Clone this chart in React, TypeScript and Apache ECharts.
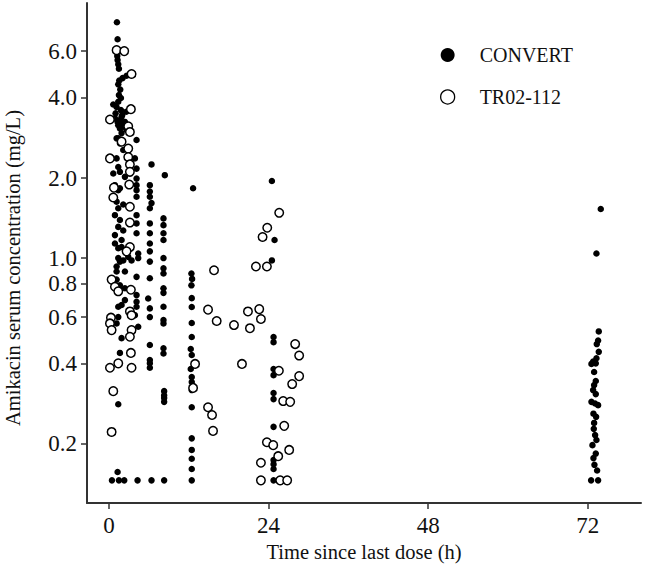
import { useEffect, useRef } from "react";
import * as echarts from "echarts";

// Tick values
const xTicks = [0, 24, 48, 72];
const yTicks = [0.2, 0.4, 0.6, 0.8, 1.0, 2.0, 4.0, 6.0];
const seriesNames = ["CONVERT", "TR02-112"];

// CONVERT: [time since last dose (h), amikacin concentration (mg/L)]
const convertEarly: [number, number][] = [
  [1.2, 7.7], [1.3, 6.65], [1.25, 5.75], [1.3, 5.55], [1.4, 5.35], [1.5, 5.15], [2.65, 4.85], [2.05, 4.75],
  [1.55, 4.65], [1.4, 4.5], [1.7, 4.3], [1.5, 4.1], [1.8, 4.0], [1.4, 3.87], [0.65, 3.78], [1.15, 3.7],
  [1.8, 3.6], [2.0, 3.45], [0.9, 3.35], [1.65, 3.3], [2.4, 3.25], [1.4, 3.16], [2.15, 3.12], [1.0, 3.5],
  [1.9, 3.4], [2.6, 3.55], [1.3, 3.25], [2.0, 3.2], [1.9, 2.95], [1.15, 2.82],
  [1.65, 3.07], [2.65, 3.03], [4.15, 2.78], [1.4, 2.82], [1.65, 2.7], [2.15, 2.55], [1.15, 2.37], [3.9, 2.37],
  [6.4, 2.25], [1.4, 2.2], [4.15, 2.17], [0.65, 2.08], [1.65, 2.11], [2.4, 2.02], [8.4, 2.05], [4.15, 1.99],
  [0.9, 1.88], [1.65, 1.83], [1.4, 1.8], [4.15, 1.88], [6.15, 1.88], [4.15, 1.8], [6.15, 1.78], [4.15, 1.7],
  [6.15, 1.7], [1.15, 1.63], [6.4, 1.61], [2.15, 1.59], [1.4, 1.54], [6.15, 1.54], [0.9, 1.45], [4.15, 1.45],
  [8.2, 1.41], [1.65, 1.39], [4.15, 1.35], [6.15, 1.35], [8.2, 1.33], [1.4, 1.31], [2.15, 1.27], [4.15, 1.24],
  [6.15, 1.24], [8.2, 1.24], [0.9, 1.22], [1.9, 1.17], [8.2, 1.17], [6.15, 1.135], [1.9, 1.1], [0.9, 1.135],
  [1.4, 1.09], [6.15, 1.06], [4.4, 1.04], [1.4, 1.0], [2.15, 0.98], [2.9, 1.01], [3.4, 0.98], [4.4, 1.0],
  [8.2, 1.0], [1.15, 0.93], [1.65, 0.97], [6.15, 0.97], [8.2, 0.915], [8.2, 0.875], [1.15, 0.89], [2.4, 0.89],
  [4.15, 0.85], [6.15, 0.84], [1.15, 0.83], [1.65, 0.79], [2.4, 0.77], [4.15, 0.726], [4.15, 0.685], [5.9, 0.705],
  [8.2, 0.77], [8.2, 0.74], [2.4, 0.695], [1.4, 0.656], [1.9, 0.666], [6.15, 0.647], [8.2, 0.656], [4.15, 0.656],
  [3.9, 0.61], [1.4, 0.6], [6.15, 0.6], [1.15, 0.568], [8.2, 0.568], [8.2, 0.585], [4.4, 0.552], [1.9, 0.5],
  [6.15, 0.471], [8.2, 0.458], [8.2, 0.438], [1.65, 0.44], [6.15, 0.414], [6.15, 0.402], [6.15, 0.387],
  [8.3, 0.316], [8.3, 0.305], [8.3, 0.298], [8.3, 0.288], [1.4, 0.282], [1.3, 0.157],
  [0.45, 0.146], [1.5, 0.146], [2.3, 0.146], [4.3, 0.146], [6.4, 0.146], [8.3, 0.146],
];
const convert12h: [number, number][] = [
  [12.65, 1.83], [12.4, 0.875], [12.5, 0.835], [12.4, 0.79], [12.45, 0.707], [12.45, 0.655], [12.45, 0.57],
  [12.45, 0.505], [12.3, 0.455], [12.45, 0.432], [12.3, 0.383], [12.45, 0.357], [12.45, 0.342], [12.45, 0.319],
  [12.45, 0.275], [12.45, 0.21], [12.45, 0.19], [12.45, 0.176], [12.45, 0.161], [12.45, 0.146],
];
const convert24h: [number, number][] = [
  [24.5, 1.95], [24.9, 1.17], [24.5, 0.98], [24.75, 0.505], [24.75, 0.483], [24.75, 0.383], [24.75, 0.363],
  [24.75, 0.311], [24.75, 0.295], [24.75, 0.232], [24.75, 0.174], [24.75, 0.168], [24.75, 0.161], [24.75, 0.146],
];
const convert72h: [number, number][] = [
  [73.95, 1.53], [73.3, 1.04], [73.65, 0.53], [73.55, 0.49], [73.35, 0.475], [73.65, 0.444], [73.3, 0.42],
  [72.8, 0.408], [73.2, 0.402], [72.55, 0.4], [72.95, 0.373], [73.2, 0.345], [72.95, 0.333], [72.8, 0.319],
  [73.2, 0.308], [72.55, 0.288], [73.1, 0.284], [73.55, 0.28], [72.85, 0.26], [73.25, 0.253], [72.95, 0.24],
  [72.9, 0.228], [73.1, 0.216], [73.3, 0.207], [72.7, 0.198], [73.2, 0.184], [72.85, 0.177], [73.0, 0.167],
  [73.4, 0.159], [72.5, 0.146], [73.55, 0.146],
];

// TR02-112: [time since last dose (h), amikacin concentration (mg/L)]
const trEarly: [number, number][] = [
  [1.15, 6.05], [2.3, 6.0], [3.4, 4.92], [3.3, 3.63], [0.15, 3.32], [2.9, 3.13], [3.15, 2.98], [1.9, 2.74],
  [2.9, 2.58], [0.15, 2.37], [2.9, 2.4], [3.15, 2.25], [3.15, 2.11], [3.05, 1.89], [0.75, 1.84], [0.65, 1.69],
  [3.15, 1.56], [3.15, 1.36], [3.15, 1.1], [2.65, 1.06], [0.4, 0.83], [0.9, 0.78], [1.4, 0.75], [3.3, 0.76],
  [3.15, 0.63], [3.4, 0.61], [0.3, 0.597], [0.15, 0.568], [0.4, 0.536], [3.4, 0.536], [3.15, 0.506],
  [3.3, 0.44], [1.4, 0.402], [0.15, 0.387], [3.4, 0.387], [0.65, 0.316], [0.4, 0.222],
];
const trLater: [number, number][] = [
  [25.6, 1.48], [23.8, 1.3], [23.1, 1.2], [22.1, 0.93], [23.75, 0.93], [15.8, 0.9], [14.9, 0.64], [16.2, 0.58],
  [18.8, 0.56], [20.9, 0.63], [22.6, 0.643], [22.85, 0.59], [21.2, 0.545], [12.95, 0.4], [20.0, 0.4],
  [12.65, 0.325], [14.9, 0.275], [15.5, 0.257], [15.65, 0.224], [28.0, 0.475], [28.6, 0.43], [25.55, 0.377],
  [28.6, 0.36], [27.55, 0.336], [26.2, 0.29], [27.25, 0.288], [26.35, 0.234], [23.75, 0.203], [24.7, 0.198],
  [27.1, 0.19], [25.45, 0.18], [22.85, 0.17], [22.85, 0.146], [25.75, 0.146], [26.8, 0.146],
];

// y axis is logarithmic: values are placed on a log10 value scale
const toLog = (pts: [number, number][]) => pts.map(([h, c]) => [h, Math.log10(c)]);

export default function App() {
  const ref = useRef<HTMLDivElement>(null);
  useEffect(() => {
    document.body.style.margin = "0";
    const chart = echarts.init(ref.current!, null, { renderer: "svg" });
    const font = "'Liberation Serif', 'Times New Roman', serif";
    const axisColor = "#333333";
    const textColor = "#111111";
    chart.setOption({
      animation: false,
      backgroundColor: "#ffffff",
      textStyle: { fontFamily: font },
      grid: { left: 87, right: 12, top: 3, bottom: 73, containLabel: false, outerBoundsMode: "none" },
      legend: {
        orient: "vertical",
        left: 435,
        top: 40,
        itemWidth: 54,
        itemHeight: 14,
        itemGap: 22,
        textStyle: { fontSize: 20, fontFamily: font, color: textColor },
        data: [
          { name: seriesNames[0], icon: "circle", itemStyle: { color: "#000", borderWidth: 0, opacity: 1 } },
          { name: seriesNames[1], icon: "circle", itemStyle: { color: "#fff", borderColor: "#000", borderWidth: 1.3, opacity: 1 } },
        ],
      },
      xAxis: {
        type: "value",
        min: -3.3,
        max: 80,
        splitLine: { show: false },
        axisLine: { show: true, onZero: false, lineStyle: { color: axisColor, width: 2 } },
        axisTick: { show: true, customValues: xTicks, length: 6, lineStyle: { color: axisColor, width: 1.5 } },
        axisLabel: { customValues: xTicks, fontSize: 23, color: textColor, margin: 11, fontFamily: font },
        name: "Time since last dose (h)",
        nameLocation: "middle",
        nameGap: 32,
        nameTextStyle: { fontSize: 20.5, color: textColor, fontFamily: font },
      },
      yAxis: {
        type: "value",
        min: Math.log10(0.12),
        max: Math.log10(9.1),
        splitLine: { show: false },
        axisLine: { show: true, onZero: false, lineStyle: { color: axisColor, width: 2 } },
        axisTick: { show: true, customValues: yTicks.map((v) => Math.log10(v)), length: 6, lineStyle: { color: axisColor, width: 1.5 } },
        axisLabel: {
          customValues: yTicks.map((v) => Math.log10(v)),
          formatter: (v: number) => Math.pow(10, v).toFixed(1),
          fontSize: 23,
          color: textColor,
          margin: 10,
          fontFamily: font,
        },
        name: "Amikacin serum concentration (mg/L)",
        nameLocation: "middle",
        nameGap: 64,
        nameTextStyle: { fontSize: 20.5, color: textColor, fontFamily: font, padding: [0, 30, 0, 0] },
      },
      series: [
        {
          name: seriesNames[0],
          type: "scatter",
          symbol: "circle",
          symbolSize: 6.5,
          itemStyle: { color: "#000", opacity: 1 },
          data: toLog([...convertEarly, ...convert12h, ...convert24h, ...convert72h]),
        },
        {
          name: seriesNames[1],
          type: "scatter",
          symbol: "circle",
          symbolSize: 8.5,
          itemStyle: { color: "#fff", borderColor: "#000", borderWidth: 1.5, opacity: 1 },
          data: toLog([...trEarly, ...trLater]),
        },
      ],
    });
    return () => chart.dispose();
  }, []);
  return <div ref={ref} style={{ position: "absolute", left: 0, top: 0, width: 653, height: 576 }} />;
}
